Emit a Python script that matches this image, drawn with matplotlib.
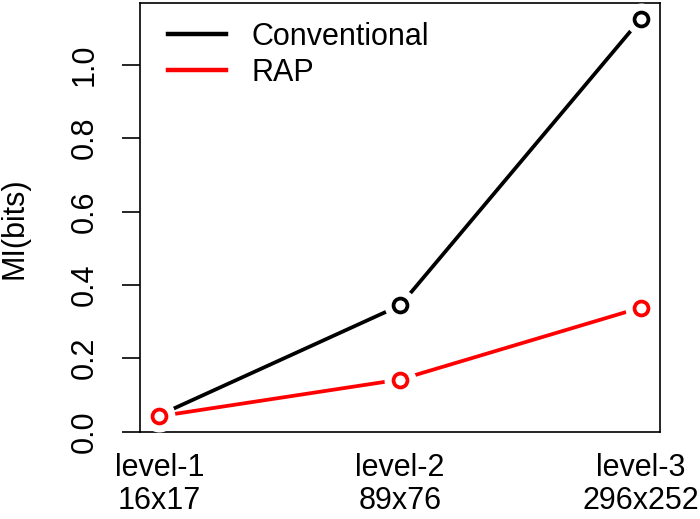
import matplotlib
matplotlib.use("Agg")
import matplotlib.pyplot as plt
from matplotlib.lines import Line2D

plt.rcParams['font.family'] = ['Liberation Sans', 'DejaVu Sans']

levels = ["level-1", "level-2", "level-3"]
sizes = ["16x17", "89x76", "296x252"]
conventional = [0.045, 0.344, 1.125]
rap = [0.042, 0.142, 0.338]
series_names = ["Conventional", "RAP"]
series_colors = ["black", "red"]

fig = plt.figure(figsize=(7.0, 5.19), dpi=100)
ax = fig.add_axes([0.2, 0.1676, 0.743, 0.8264])

x = list(range(1, len(levels) + 1))
z = 2
for vals, col in zip([conventional, rap], series_colors):
    ax.plot(x, vals, color=col, lw=2.7, solid_capstyle='butt', zorder=z)
    ax.plot(x, vals, ls='none', marker='o', ms=23, mfc='white', mec='none', zorder=z + 1)
    ax.plot(x, vals, ls='none', marker='o', ms=10, mfc='white', mec=col, mew=2.7, zorder=z + 2)
    z += 3

ax.set_xlim(0.92, 3.08)
ax.set_ylim(-0.001, 1.168)
ax.set_yticks([0.0, 0.2, 0.4, 0.6, 0.8, 1.0])
ax.set_yticklabels(["0.0", "0.2", "0.4", "0.6", "0.8", "1.0"])
ax.set_xticks(x)
ax.set_xticklabels([f"{l}\n{s}" for l, s in zip(levels, sizes)], linespacing=1.12)

ax.tick_params(axis='y', length=13, width=1.2, pad=16, labelsize=22, labelrotation=90)
ax.tick_params(axis='x', length=0, pad=15, labelsize=22)
for lab in ax.get_yticklabels():
    lab.set_va('center')
for s in ax.spines.values():
    s.set_linewidth(1.2)

fig.text(15 / 700, 1 - 228 / 519, "MI(bits)", rotation=90, ha='center', va='center', fontsize=22)

handles = [Line2D([], [], color=c, lw=3.2) for c in series_colors]
ax.legend(handles, series_names, loc='upper left', bbox_to_anchor=(0.03, 0.985),
          frameon=False, fontsize=22, handlelength=1.9, handletextpad=0.85,
          labelspacing=0.2, borderaxespad=0)

fig.savefig("out.png", dpi=100)
